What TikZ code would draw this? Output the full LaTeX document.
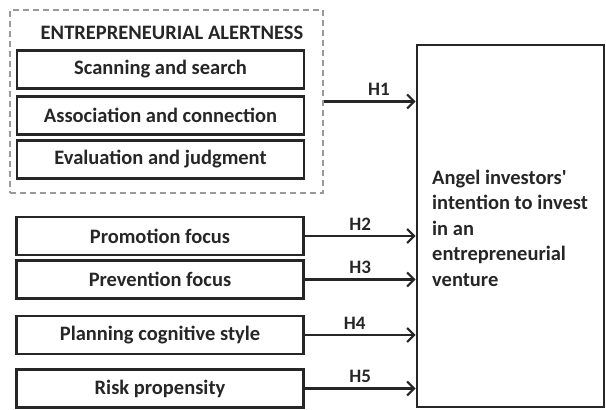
\documentclass[tikz,border=0pt]{standalone}
\usepackage{fontspec}
\setmainfont{Carlito}
\usetikzlibrary{arrows.meta}
\definecolor{ink}{HTML}{262626}
\tikzset{
  factor/.style={draw=ink, line width=2.6pt, minimum width=287pt, minimum height=38pt,
    inner sep=0pt, font=\fontsize{20.5}{24}\selectfont\bfseries, text=ink},
  link/.style={draw=ink, line width=2.6pt, -{Straight Barb[length=7pt,width=14pt,line width=2.2pt]}},
  hyp/.style={font=\fontsize{19}{22}\selectfont\bfseries, text=ink, above=1pt}
}
\begin{document}
\begin{tikzpicture}[x=1pt,y=-1pt]
\useasboundingbox (0,0) rectangle (606,410);

% dashed group for the alertness dimensions
\node[draw=gray!80, dashed, dash pattern=on 6pt off 4pt, line width=1.4pt,
      minimum width=313pt, minimum height=183pt, inner sep=0pt] (alert) at (166.5,101.5) {};
\node[font=\fontsize{20.5}{24}\selectfont\bfseries, text=ink] (title) at (172,33) {ENTREPRENEURIAL ALERTNESS};
\node[factor] (scan)  at (160.5,69.5)  {Scanning and search};
\node[factor] (assoc) at (160.5,115.5) {Association and connection};
\node[factor] (eval)  at (160.5,159.5) {Evaluation and judgment};

% remaining antecedents
\node[factor] (prom) at (160,236)   {Promotion focus};
\node[factor] (prev) at (160,279.5) {Prevention focus};
\node[factor] (plan) at (160,335)   {Planning cognitive style};
\node[factor] (risk) at (160,388.5) {Risk propensity};

% outcome
\node[draw=ink, line width=2.6pt, minimum width=187pt, minimum height=362pt,
      inner sep=0pt] (intent) at (510.5,226) {};
\node[anchor=west, inner sep=0pt, align=left, text=ink,
      font=\fontsize{20.5}{25.5}\selectfont\bfseries] (intenttext) at (432,228)
  {Angel investors\textquotesingle\\intention to invest\\in an\\entrepreneurial\\venture};

% hypothesised paths
\draw[link] (alert.east) -- (alert.east -| intent.west) node[hyp, pos=0.6] {H1};
\draw[link] (prom.east) -- (prom.east -| intent.west) node[hyp, pos=0.5] {H2};
\draw[link] (prev.east) -- (prev.east -| intent.west) node[hyp, pos=0.5] {H3};
\draw[link] (plan.east) -- (plan.east -| intent.west) node[hyp, pos=0.45] {H4};
\draw[link] (risk.east) -- (risk.east -| intent.west) node[hyp, pos=0.5] {H5};
\end{tikzpicture}
\end{document}
